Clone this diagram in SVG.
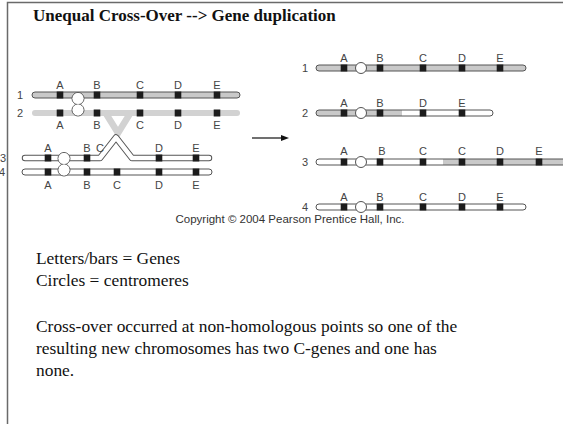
<svg xmlns="http://www.w3.org/2000/svg" width="563" height="424" viewBox="0 0 563 424">
  <style>
    .lbl { font-family: "Liberation Sans", Arial, sans-serif; font-size: 11px; fill: #444; text-anchor: middle; }
    .num { font-family: "Liberation Sans", Arial, sans-serif; font-size: 11px; fill: #444; }
    .body { font-family: "Liberation Serif", "Times New Roman", serif; font-size: 17.4px; fill: #111; }
    .title { font-family: "Liberation Serif", "Times New Roman", serif; font-size: 17px; font-weight: bold; fill: #111; }
    .tube { stroke: #555; stroke-width: 1; }
    .gray { fill: #c9c9c9; }
    .white { fill: #fff; }
    .gene { fill: #1c1c1c; }
    .cen-o { fill: #fff; stroke: #555; stroke-width: 1; }
    .cen-i { fill: #fff; }
  </style>
  <defs>
    <rect id="g" class="gene" x="-3.3" y="-3.5" width="6.6" height="7"/>
  </defs>

  <!-- frame -->
  <path d="M7.5,424 V2.5 H563" fill="none" stroke="#6a6a6a" stroke-width="1.5"/>

  <text class="title" x="33" y="21">Unequal Cross-Over --&gt; Gene duplication</text>

  <!-- ===== before crossing-over ===== -->
  <g id="left-chr1">
    <rect class="tube gray" x="32" y="92" width="208" height="6" rx="3"/>
    <use href="#g" x="60" y="95"/><use href="#g" x="97" y="95"/><use href="#g" x="140" y="95"/><use href="#g" x="178" y="95"/><use href="#g" x="217" y="95"/>
    <text class="num" x="17" y="99">1</text>
    <text class="lbl" x="60" y="89">A</text><text class="lbl" x="97" y="89">B</text><text class="lbl" x="140" y="89">C</text><text class="lbl" x="178" y="89">D</text><text class="lbl" x="217" y="89">E</text>
  </g>

  <g id="left-chr2">
    <rect x="32" y="110" width="208" height="6" rx="3" fill="#d2d2d2"/>
    <path d="M105,112 L118,133 L131,112" fill="none" stroke="#d2d2d2" stroke-width="6.5" stroke-linejoin="miter"/>
    <use href="#g" x="60" y="113"/><use href="#g" x="97" y="113"/><use href="#g" x="140" y="113"/><use href="#g" x="178" y="113"/><use href="#g" x="217" y="113"/>
    <text class="num" x="17" y="117">2</text>
    <text class="lbl" x="60" y="129">A</text><text class="lbl" x="97" y="129">B</text><text class="lbl" x="140" y="129">C</text><text class="lbl" x="178" y="129">D</text><text class="lbl" x="217" y="129">E</text>
  </g>

  <g id="left-cen12">
    <circle class="cen-o" cx="78" cy="98.5" r="6"/>
    <circle class="cen-o" cx="78" cy="110" r="6"/>
    <circle class="cen-i" cx="78" cy="98.5" r="5.4"/>
    <circle class="cen-i" cx="78" cy="110" r="5.4"/>
  </g>

  <g id="left-chr3">
    <path d="M25,158 H100 L116,137.5 L132,158 H209" fill="none" stroke="#555" stroke-width="6.5" stroke-linecap="round" stroke-linejoin="round"/>
    <path d="M25,158 H100 L116,137.5 L132,158 H209" fill="none" stroke="#fff" stroke-width="4.5" stroke-linecap="round" stroke-linejoin="round"/>
    <use href="#g" x="48" y="158"/><use href="#g" x="87" y="158"/><use href="#g" x="159" y="158"/><use href="#g" x="196" y="158"/>
    <text class="num" x="0" y="162">3</text>
    <text class="lbl" x="48" y="152">A</text><text class="lbl" x="87" y="152">B</text><text class="lbl" x="100" y="152">C</text><text class="lbl" x="159" y="152">D</text><text class="lbl" x="196" y="152">E</text>
  </g>

  <g id="left-chr4">
    <rect class="tube white" x="22" y="169" width="190" height="6" rx="3"/>
    <use href="#g" x="48" y="172"/><use href="#g" x="87" y="172"/><use href="#g" x="117" y="172"/><use href="#g" x="159" y="172"/><use href="#g" x="196" y="172"/>
    <text class="num" x="-1" y="176">4</text>
    <text class="lbl" x="48" y="189">A</text><text class="lbl" x="87" y="189">B</text><text class="lbl" x="117" y="189">C</text><text class="lbl" x="159" y="189">D</text><text class="lbl" x="196" y="189">E</text>
  </g>

  <g id="left-cen34">
    <circle class="cen-o" cx="64" cy="158.5" r="6"/>
    <circle class="cen-o" cx="64" cy="170" r="6"/>
    <circle class="cen-i" cx="64" cy="158.5" r="5.4"/>
    <circle class="cen-i" cx="64" cy="170" r="5.4"/>
  </g>

  <!-- arrow -->
  <g id="connectors">
    <line x1="252" y1="138" x2="282" y2="138" stroke="#111" stroke-width="1.2"/>
    <polygon points="289,138 281,135 281,141" fill="#111"/>
  </g>

  <!-- ===== after crossing-over ===== -->
  <g id="right-chr1">
    <rect class="tube gray" x="316" y="65" width="210" height="6" rx="3"/>
    <use href="#g" x="344" y="68"/><use href="#g" x="380" y="68"/><use href="#g" x="423" y="68"/><use href="#g" x="462" y="68"/><use href="#g" x="500" y="68"/>
    <circle class="cen-o" cx="361" cy="68" r="5.5"/>
    <text class="num" x="302" y="72">1</text>
    <text class="lbl" x="344" y="62">A</text><text class="lbl" x="380" y="62">B</text><text class="lbl" x="423" y="62">C</text><text class="lbl" x="462" y="62">D</text><text class="lbl" x="500" y="62">E</text>
  </g>

  <g id="right-chr2">
    <rect class="gray" x="316" y="110" width="177" height="6" rx="3"/>
    <rect class="white" x="402" y="110" width="94" height="6"/>
    <rect class="tube" x="316" y="110" width="177" height="6" rx="3" fill="none"/>
    <use href="#g" x="344" y="113"/><use href="#g" x="380" y="113"/><use href="#g" x="423" y="113"/><use href="#g" x="462" y="113"/>
    <circle class="cen-o" cx="361" cy="113" r="5.5"/>
    <text class="num" x="302" y="117">2</text>
    <text class="lbl" x="344" y="107">A</text><text class="lbl" x="380" y="107">B</text><text class="lbl" x="423" y="107">D</text><text class="lbl" x="462" y="107">E</text>
  </g>

  <g id="right-chr3">
    <rect class="white" x="316" y="159" width="260" height="6" rx="3"/>
    <rect class="gray" x="443" y="159" width="133" height="6"/>
    <rect class="tube" x="316" y="159" width="260" height="6" rx="3" fill="none"/>
    <use href="#g" x="344" y="162"/><use href="#g" x="380" y="162"/><use href="#g" x="423" y="162"/><use href="#g" x="462" y="162"/><use href="#g" x="500" y="162"/><use href="#g" x="539" y="162"/>
    <circle class="cen-o" cx="361" cy="162" r="5.5"/>
    <text class="num" x="302" y="166">3</text>
    <text class="lbl" x="344" y="155">A</text><text class="lbl" x="382" y="155">B</text><text class="lbl" x="423" y="155">C</text><text class="lbl" x="462" y="155">C</text><text class="lbl" x="500" y="155">D</text><text class="lbl" x="539" y="155">E</text>
  </g>

  <g id="right-chr4">
    <rect class="tube white" x="316" y="204" width="210" height="6" rx="3"/>
    <use href="#g" x="344" y="207"/><use href="#g" x="380" y="207"/><use href="#g" x="423" y="207"/><use href="#g" x="462" y="207"/><use href="#g" x="500" y="207"/>
    <circle class="cen-o" cx="361" cy="207" r="5.5"/>
    <text class="num" x="302" y="211">4</text>
    <text class="lbl" x="344" y="201">A</text><text class="lbl" x="380" y="201">B</text><text class="lbl" x="423" y="201">C</text><text class="lbl" x="462" y="201">D</text><text class="lbl" x="500" y="201">E</text>
  </g>

  <text class="lbl" x="290" y="223" style="font-size:11.5px;fill:#333">Copyright © 2004 Pearson Prentice Hall, Inc.</text>

  <!-- notes -->
  <text class="body" x="36" y="264">Letters/bars = Genes</text>
  <text class="body" x="36" y="286">Circles = centromeres</text>
  <text class="body" x="36" y="332">Cross-over occurred at non-homologous points so one of the</text>
  <text class="body" x="36" y="354">resulting new chromosomes has two C-genes and one has</text>
  <text class="body" x="36" y="376">none.</text>
</svg>
